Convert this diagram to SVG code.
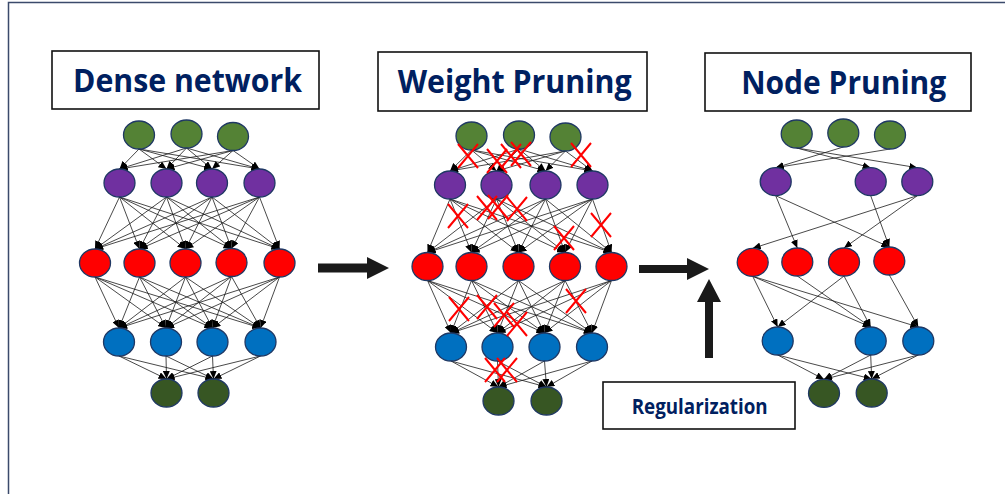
<svg xmlns="http://www.w3.org/2000/svg" width="1005" height="494" viewBox="0 0 1005 494">
  <style>
    .frame { fill: none; stroke: #3B4A6B; stroke-width: 1.5; }
    .title-box { fill: #FFFFFF; stroke: #111111; stroke-width: 1.6; }
    .title { font-family: "Open Sans", "Noto Sans", sans-serif; font-weight: 700; font-size: 32px; fill: #002060; text-anchor: middle; }
    .label { font-family: "Open Sans", "Noto Sans", sans-serif; font-weight: 700; font-size: 21px; fill: #002060; text-anchor: middle; }
    .node { stroke: #1F3864; stroke-width: 1.3; }
    .in { fill: #548235; }
    .h1 { fill: #7030A0; }
    .h2 { fill: #FF0000; }
    .h3 { fill: #0070C0; }
    .out { fill: #375623; }
    .edge line { stroke: #1A1A1A; stroke-width: 0.8; marker-end: url(#ah); }
    .cut { stroke: #FF0000; stroke-width: 2; fill: none; }
    .big-arrow { fill: #1A1A1A; }
  </style>
  <defs>
    <marker id="ah" viewBox="0 0 8 7" refX="8" refY="3.5" markerWidth="8" markerHeight="7" markerUnits="userSpaceOnUse" orient="auto">
      <path d="M0,0 L8,3.5 L0,7 z" fill="#000000"/>
    </marker>
    <path id="xmark" class="cut" d="M-10,-12 L10,12 M10,-12 L-10,12"/>
  </defs>

  <rect class="frame" x="8.5" y="2.5" width="1100" height="600"/>

  <!-- titles -->
  <g id="title-dense">
    <rect class="title-box" x="52" y="51" width="267" height="58"/>
    <text class="title" x="187.5" y="92" textLength="229" lengthAdjust="spacingAndGlyphs">Dense network</text>
  </g>
  <g id="title-weight">
    <rect class="title-box" x="378" y="52" width="269" height="59"/>
    <text class="title" x="514.7" y="93.3" textLength="234" lengthAdjust="spacingAndGlyphs">Weight Pruning</text>
  </g>
  <g id="title-node">
    <rect class="title-box" x="705" y="53" width="266" height="58"/>
    <text class="title" x="843.7" y="94" textLength="205" lengthAdjust="spacingAndGlyphs">Node Pruning</text>
  </g>
  <g id="regularization">
    <rect class="title-box" x="603" y="382" width="192" height="47"/>
    <text class="label" x="699.7" y="413.5" textLength="136" lengthAdjust="spacingAndGlyphs">Regularization</text>
  </g>

  <!-- connectors -->
  <g id="connectors">
    <g class="edge" id="dense-edges">
      <line x1="139" y1="149" x2="119.5" y2="169"/><line x1="139" y1="149" x2="166.5" y2="169"/><line x1="139" y1="149" x2="212" y2="169"/><line x1="139" y1="149" x2="259.5" y2="169"/>
      <line x1="186.5" y1="148" x2="119.5" y2="169"/><line x1="186.5" y1="148" x2="166.5" y2="169"/><line x1="186.5" y1="148" x2="212" y2="169"/><line x1="186.5" y1="148" x2="259.5" y2="169"/>
      <line x1="233" y1="150.5" x2="119.5" y2="169"/><line x1="233" y1="150.5" x2="166.5" y2="169"/><line x1="233" y1="150.5" x2="212" y2="169"/><line x1="233" y1="150.5" x2="259.5" y2="169"/>

      <line x1="119.5" y1="197" x2="95" y2="249"/><line x1="119.5" y1="197" x2="139.5" y2="249"/><line x1="119.5" y1="197" x2="185.5" y2="249"/><line x1="119.5" y1="197" x2="231.5" y2="248.5"/><line x1="119.5" y1="197" x2="279.5" y2="249"/>
      <line x1="166.5" y1="197" x2="95" y2="249"/><line x1="166.5" y1="197" x2="139.5" y2="249"/><line x1="166.5" y1="197" x2="185.5" y2="249"/><line x1="166.5" y1="197" x2="231.5" y2="248.5"/><line x1="166.5" y1="197" x2="279.5" y2="249"/>
      <line x1="212" y1="197" x2="95" y2="249"/><line x1="212" y1="197" x2="139.5" y2="249"/><line x1="212" y1="197" x2="185.5" y2="249"/><line x1="212" y1="197" x2="231.5" y2="248.5"/><line x1="212" y1="197" x2="279.5" y2="249"/>
      <line x1="259.5" y1="197" x2="95" y2="249"/><line x1="259.5" y1="197" x2="139.5" y2="249"/><line x1="259.5" y1="197" x2="185.5" y2="249"/><line x1="259.5" y1="197" x2="231.5" y2="248.5"/><line x1="259.5" y1="197" x2="279.5" y2="249"/>

      <line x1="95" y1="277" x2="119" y2="328"/><line x1="95" y1="277" x2="166" y2="328"/><line x1="95" y1="277" x2="212.5" y2="328"/><line x1="95" y1="277" x2="260.5" y2="328"/>
      <line x1="139.5" y1="277" x2="119" y2="328"/><line x1="139.5" y1="277" x2="166" y2="328"/><line x1="139.5" y1="277" x2="212.5" y2="328"/><line x1="139.5" y1="277" x2="260.5" y2="328"/>
      <line x1="185.5" y1="277" x2="119" y2="328"/><line x1="185.5" y1="277" x2="166" y2="328"/><line x1="185.5" y1="277" x2="212.5" y2="328"/><line x1="185.5" y1="277" x2="260.5" y2="328"/>
      <line x1="231.5" y1="276.5" x2="119" y2="328"/><line x1="231.5" y1="276.5" x2="166" y2="328"/><line x1="231.5" y1="276.5" x2="212.5" y2="328"/><line x1="231.5" y1="276.5" x2="260.5" y2="328"/>
      <line x1="279.5" y1="277" x2="119" y2="328"/><line x1="279.5" y1="277" x2="166" y2="328"/><line x1="279.5" y1="277" x2="212.5" y2="328"/><line x1="279.5" y1="277" x2="260.5" y2="328"/>

      <line x1="119" y1="356" x2="166.5" y2="379"/><line x1="119" y1="356" x2="213.5" y2="379"/>
      <line x1="166" y1="356" x2="166.5" y2="379"/><line x1="166" y1="356" x2="213.5" y2="379"/>
      <line x1="212.5" y1="356" x2="166.5" y2="379"/><line x1="212.5" y1="356" x2="213.5" y2="379"/>
      <line x1="260.5" y1="356" x2="166.5" y2="379"/><line x1="260.5" y1="356" x2="213.5" y2="379"/>
    </g>

    <g class="edge" id="weight-edges">
      <line x1="471.5" y1="150" x2="450" y2="171"/><line x1="471.5" y1="150" x2="496.5" y2="171"/><line x1="471.5" y1="150" x2="545.5" y2="171"/><line x1="471.5" y1="150" x2="592.5" y2="171"/>
      <line x1="519" y1="149" x2="450" y2="171"/><line x1="519" y1="149" x2="496.5" y2="171"/><line x1="519" y1="149" x2="545.5" y2="171"/><line x1="519" y1="149" x2="592.5" y2="171"/>
      <line x1="565.5" y1="151" x2="450" y2="171"/><line x1="565.5" y1="151" x2="496.5" y2="171"/><line x1="565.5" y1="151" x2="545.5" y2="171"/><line x1="565.5" y1="151" x2="592.5" y2="171"/>

      <line x1="450" y1="199" x2="427.5" y2="252.5"/><line x1="450" y1="199" x2="471.5" y2="252.5"/><line x1="450" y1="199" x2="518.5" y2="252.5"/><line x1="450" y1="199" x2="565" y2="252.5"/><line x1="450" y1="199" x2="611.5" y2="252.5"/>
      <line x1="496.5" y1="199" x2="427.5" y2="252.5"/><line x1="496.5" y1="199" x2="471.5" y2="252.5"/><line x1="496.5" y1="199" x2="518.5" y2="252.5"/><line x1="496.5" y1="199" x2="565" y2="252.5"/><line x1="496.5" y1="199" x2="611.5" y2="252.5"/>
      <line x1="545.5" y1="199" x2="427.5" y2="252.5"/><line x1="545.5" y1="199" x2="471.5" y2="252.5"/><line x1="545.5" y1="199" x2="518.5" y2="252.5"/><line x1="545.5" y1="199" x2="565" y2="252.5"/><line x1="545.5" y1="199" x2="611.5" y2="252.5"/>
      <line x1="592.5" y1="199" x2="427.5" y2="252.5"/><line x1="592.5" y1="199" x2="471.5" y2="252.5"/><line x1="592.5" y1="199" x2="518.5" y2="252.5"/><line x1="592.5" y1="199" x2="565" y2="252.5"/><line x1="592.5" y1="199" x2="611.5" y2="252.5"/>

      <line x1="427.5" y1="280.5" x2="451" y2="333"/><line x1="427.5" y1="280.5" x2="497.5" y2="333"/><line x1="427.5" y1="280.5" x2="544.5" y2="333"/><line x1="427.5" y1="280.5" x2="592" y2="333"/>
      <line x1="471.5" y1="280.5" x2="451" y2="333"/><line x1="471.5" y1="280.5" x2="497.5" y2="333"/><line x1="471.5" y1="280.5" x2="544.5" y2="333"/><line x1="471.5" y1="280.5" x2="592" y2="333"/>
      <line x1="518.5" y1="280.5" x2="451" y2="333"/><line x1="518.5" y1="280.5" x2="497.5" y2="333"/><line x1="518.5" y1="280.5" x2="544.5" y2="333"/><line x1="518.5" y1="280.5" x2="592" y2="333"/>
      <line x1="565" y1="280.5" x2="451" y2="333"/><line x1="565" y1="280.5" x2="497.5" y2="333"/><line x1="565" y1="280.5" x2="544.5" y2="333"/><line x1="565" y1="280.5" x2="592" y2="333"/>
      <line x1="611.5" y1="280.5" x2="451" y2="333"/><line x1="611.5" y1="280.5" x2="497.5" y2="333"/><line x1="611.5" y1="280.5" x2="544.5" y2="333"/><line x1="611.5" y1="280.5" x2="592" y2="333"/>

      <line x1="451" y1="361" x2="498.5" y2="387"/><line x1="451" y1="361" x2="546.5" y2="387"/>
      <line x1="497.5" y1="361" x2="498.5" y2="387"/><line x1="497.5" y1="361" x2="546.5" y2="387"/>
      <line x1="544.5" y1="361" x2="498.5" y2="387"/><line x1="544.5" y1="361" x2="546.5" y2="387"/>
      <line x1="592" y1="361" x2="498.5" y2="387"/><line x1="592" y1="361" x2="546.5" y2="387"/>
    </g>

    <g class="edge" id="node-edges">
      <line x1="796.7" y1="148" x2="870.7" y2="167.7"/><line x1="796.7" y1="148" x2="917.3" y2="167.7"/>
      <line x1="843.3" y1="147" x2="775.7" y2="167.7"/>
      <line x1="890" y1="149" x2="775.7" y2="167.7"/>

      <line x1="775.7" y1="195.7" x2="797.3" y2="248"/><line x1="775.7" y1="195.7" x2="889.3" y2="247"/>
      <line x1="870.7" y1="195.7" x2="889.3" y2="247"/>
      <line x1="917.3" y1="195.7" x2="752.7" y2="248.3"/><line x1="917.3" y1="195.7" x2="844" y2="248"/>

      <line x1="752.7" y1="276.3" x2="777.7" y2="327"/><line x1="752.7" y1="276.3" x2="870.7" y2="327"/><line x1="752.7" y1="276.3" x2="918.3" y2="327"/>
      <line x1="797.3" y1="276" x2="870.7" y2="327"/>
      <line x1="844" y1="276" x2="777.7" y2="327"/><line x1="844" y1="276" x2="870.7" y2="327"/>
      <line x1="889.3" y1="275" x2="918.3" y2="327"/>

      <line x1="777.7" y1="355" x2="824" y2="379.3"/><line x1="777.7" y1="355" x2="871.7" y2="379"/>
      <line x1="870.7" y1="355" x2="824" y2="379.3"/><line x1="870.7" y1="355" x2="871.7" y2="379"/>
      <line x1="918.3" y1="355" x2="824" y2="379.3"/><line x1="918.3" y1="355" x2="871.7" y2="379"/>
    </g>

    <!-- process arrows -->
    <path id="arrow-dense-weight" class="big-arrow" d="M318,263.5 L367,263.5 L367,257 L389,268 L367,279 L367,272.5 L318,272.5 z"/>
    <path id="arrow-weight-node" class="big-arrow" d="M639,265 L687,265 L687,258 L709,269 L687,280 L687,273 L639,273 z"/>
    <path id="arrow-regularization" class="big-arrow" d="M705,358 L705,302 L697,302 L709,279 L721,302 L713,302 L713,358 z"/>
  </g>

  <!-- dense network nodes -->
  <g id="dense-in-1"><ellipse class="node in" cx="139" cy="135" rx="15.5" ry="14"/></g>
  <g id="dense-in-2"><ellipse class="node in" cx="186.5" cy="134" rx="15.5" ry="14"/></g>
  <g id="dense-in-3"><ellipse class="node in" cx="233" cy="136.5" rx="15.5" ry="14"/></g>
  <g id="dense-h1-1"><ellipse class="node h1" cx="119.5" cy="183" rx="15.5" ry="14"/></g>
  <g id="dense-h1-2"><ellipse class="node h1" cx="166.5" cy="183" rx="15.5" ry="14"/></g>
  <g id="dense-h1-3"><ellipse class="node h1" cx="212" cy="183" rx="15.5" ry="14"/></g>
  <g id="dense-h1-4"><ellipse class="node h1" cx="259.5" cy="183" rx="15.5" ry="14"/></g>
  <g id="dense-h2-1"><ellipse class="node h2" cx="95" cy="263" rx="15.5" ry="14"/></g>
  <g id="dense-h2-2"><ellipse class="node h2" cx="139.5" cy="263" rx="15.5" ry="14"/></g>
  <g id="dense-h2-3"><ellipse class="node h2" cx="185.5" cy="263" rx="15.5" ry="14"/></g>
  <g id="dense-h2-4"><ellipse class="node h2" cx="231.5" cy="262.5" rx="15.5" ry="14"/></g>
  <g id="dense-h2-5"><ellipse class="node h2" cx="279.5" cy="263" rx="15.5" ry="14"/></g>
  <g id="dense-h3-1"><ellipse class="node h3" cx="119" cy="342" rx="15.5" ry="14"/></g>
  <g id="dense-h3-2"><ellipse class="node h3" cx="166" cy="342" rx="15.5" ry="14"/></g>
  <g id="dense-h3-3"><ellipse class="node h3" cx="212.5" cy="342" rx="15.5" ry="14"/></g>
  <g id="dense-h3-4"><ellipse class="node h3" cx="260.5" cy="342" rx="15.5" ry="14"/></g>
  <g id="dense-out-1"><ellipse class="node out" cx="166.5" cy="393" rx="15.5" ry="14"/></g>
  <g id="dense-out-2"><ellipse class="node out" cx="213.5" cy="393" rx="15.5" ry="14"/></g>

  <!-- weight-pruned network nodes -->
  <g id="weight-in-1"><ellipse class="node in" cx="471.5" cy="136" rx="15.5" ry="14"/></g>
  <g id="weight-in-2"><ellipse class="node in" cx="519" cy="135" rx="15.5" ry="14"/></g>
  <g id="weight-in-3"><ellipse class="node in" cx="565.5" cy="137" rx="15.5" ry="14"/></g>
  <g id="weight-h1-1"><ellipse class="node h1" cx="450" cy="185" rx="15.5" ry="14"/></g>
  <g id="weight-h1-2"><ellipse class="node h1" cx="496.5" cy="185" rx="15.5" ry="14"/></g>
  <g id="weight-h1-3"><ellipse class="node h1" cx="545.5" cy="185" rx="15.5" ry="14"/></g>
  <g id="weight-h1-4"><ellipse class="node h1" cx="592.5" cy="185" rx="15.5" ry="14"/></g>
  <g id="weight-h2-1"><ellipse class="node h2" cx="427.5" cy="266.5" rx="15.5" ry="14"/></g>
  <g id="weight-h2-2"><ellipse class="node h2" cx="471.5" cy="266.5" rx="15.5" ry="14"/></g>
  <g id="weight-h2-3"><ellipse class="node h2" cx="518.5" cy="266.5" rx="15.5" ry="14"/></g>
  <g id="weight-h2-4"><ellipse class="node h2" cx="565" cy="266.5" rx="15.5" ry="14"/></g>
  <g id="weight-h2-5"><ellipse class="node h2" cx="611.5" cy="266.5" rx="15.5" ry="14"/></g>
  <g id="weight-h3-1"><ellipse class="node h3" cx="451" cy="347" rx="15.5" ry="14"/></g>
  <g id="weight-h3-2"><ellipse class="node h3" cx="497.5" cy="347" rx="15.5" ry="14"/></g>
  <g id="weight-h3-3"><ellipse class="node h3" cx="544.5" cy="347" rx="15.5" ry="14"/></g>
  <g id="weight-h3-4"><ellipse class="node h3" cx="592" cy="347" rx="15.5" ry="14"/></g>
  <g id="weight-out-1"><ellipse class="node out" cx="498.5" cy="401" rx="15.5" ry="14"/></g>
  <g id="weight-out-2"><ellipse class="node out" cx="546.5" cy="401" rx="15.5" ry="14"/></g>

  <!-- pruned weights -->
  <g id="pruned-weights">
    <use href="#xmark" x="468" y="156"/>
    <use href="#xmark" x="497" y="161"/>
    <use href="#xmark" x="511" y="156"/>
    <use href="#xmark" x="521" y="154"/>
    <use href="#xmark" x="581" y="155"/>
    <use href="#xmark" x="458" y="216"/>
    <use href="#xmark" x="487" y="208"/>
    <use href="#xmark" x="498" y="207"/>
    <use href="#xmark" x="517" y="209"/>
    <use href="#xmark" x="564" y="238"/>
    <use href="#xmark" x="601" y="225"/>
    <use href="#xmark" x="459" y="309"/>
    <use href="#xmark" x="487" y="307"/>
    <use href="#xmark" x="504" y="315"/>
    <use href="#xmark" x="517" y="324"/>
    <use href="#xmark" x="576" y="301"/>
    <use href="#xmark" x="495" y="370"/>
    <use href="#xmark" x="507" y="370"/>
  </g>

  <!-- node-pruned network nodes -->
  <g id="node-in-1"><ellipse class="node in" cx="796.7" cy="134" rx="15.5" ry="14"/></g>
  <g id="node-in-2"><ellipse class="node in" cx="843.3" cy="133" rx="15.5" ry="14"/></g>
  <g id="node-in-3"><ellipse class="node in" cx="890" cy="135" rx="15.5" ry="14"/></g>
  <g id="node-h1-1"><ellipse class="node h1" cx="775.7" cy="181.7" rx="15.5" ry="14"/></g>
  <g id="node-h1-2"><ellipse class="node h1" cx="870.7" cy="181.7" rx="15.5" ry="14"/></g>
  <g id="node-h1-3"><ellipse class="node h1" cx="917.3" cy="181.7" rx="15.5" ry="14"/></g>
  <g id="node-h2-1"><ellipse class="node h2" cx="752.7" cy="262.3" rx="15.5" ry="14"/></g>
  <g id="node-h2-2"><ellipse class="node h2" cx="797.3" cy="262" rx="15.5" ry="14"/></g>
  <g id="node-h2-3"><ellipse class="node h2" cx="844" cy="262" rx="15.5" ry="14"/></g>
  <g id="node-h2-4"><ellipse class="node h2" cx="889.3" cy="261" rx="15.5" ry="14"/></g>
  <g id="node-h3-1"><ellipse class="node h3" cx="777.7" cy="341" rx="15.5" ry="14"/></g>
  <g id="node-h3-2"><ellipse class="node h3" cx="870.7" cy="341" rx="15.5" ry="14"/></g>
  <g id="node-h3-3"><ellipse class="node h3" cx="918.3" cy="341" rx="15.5" ry="14"/></g>
  <g id="node-out-1"><ellipse class="node out" cx="824" cy="393.3" rx="15.5" ry="14"/></g>
  <g id="node-out-2"><ellipse class="node out" cx="871.7" cy="393" rx="15.5" ry="14"/></g>
</svg>
